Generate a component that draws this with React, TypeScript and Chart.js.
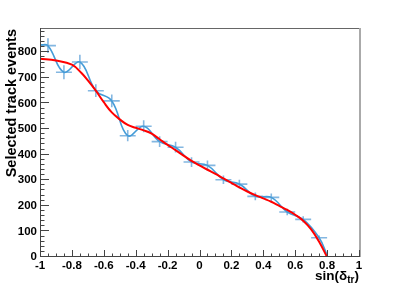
import { useEffect, useRef } from 'react';
import { Chart, registerables } from 'chart.js';

Chart.register(...registerables);

// ---- data ----
const binCenters = [-0.95, -0.85, -0.75, -0.65, -0.55, -0.45, -0.35, -0.25, -0.15, -0.05, 0.05, 0.15, 0.25, 0.35, 0.45, 0.55, 0.65, 0.75];
const counts = [826, 722, 762, 650, 610, 474, 511, 451, 429, 371, 358, 302, 285, 237, 233, 176, 147, 75];
const countErrors = [29, 27, 28, 25, 25, 22, 23, 21, 21, 19, 19, 17, 17, 15, 15, 13, 12, 9];
const binHalfWidth = 0.05;

// smooth curve end points (beyond first/last bin centres)
const smoothEdgeX = [-1, 0.8];
const smoothEdgeY = [829, 8];

// fitted function
const fitX = [-1, -0.9, -0.8, -0.74, -0.7, -0.65, -0.6, -0.55, -0.5, -0.45, -0.4, -0.35, -0.3, -0.25, -0.2, -0.15, -0.1, -0.05, 0, 0.05, 0.1, 0.15, 0.2, 0.25, 0.3, 0.35, 0.4, 0.45, 0.5, 0.55, 0.6, 0.65, 0.7, 0.75, 0.8];
const fitY = [775, 768, 752, 719, 690, 650, 605, 565, 538, 516, 505, 495, 482, 460, 438, 418, 396, 376, 358, 341, 325, 307, 290, 272, 256, 242, 229, 216, 200, 184, 165, 142, 108, 60, 0];

const xTickValues = [-1, -0.8, -0.6, -0.4, -0.2, 0, 0.2, 0.4, 0.6, 0.8, 1];
const xTickLabels = ['-1', '-0.8', '-0.6', '-0.4', '-0.2', '0', '0.2', '0.4', '0.6', '0.8', '1'];
const yTickValues = [0, 100, 200, 300, 400, 500, 600, 700, 800];
const yTickLabels = ['0', '100', '200', '300', '400', '500', '600', '700', '800'];

const xRange = [-1, 1];
const yRange = [0, 895];
const yTitle = 'Selected track events';
const xTitleMain = 'sin(δ';
const xTitleSub = 'tr';
const xTitleEnd = ')';

const W = 399;
const H = 286;
const FONT = '"Liberation Sans", Arial, Helvetica, sans-serif';

const rootPlugin = {
  id: 'rootStyle',
  beforeDatasetsDraw(chart: any) {
    const ctx = chart.ctx;
    const xs = chart.scales.x;
    const ys = chart.scales.y;
    ctx.save();
    ctx.strokeStyle = 'rgba(110,170,220,0.85)';
    ctx.lineWidth = 1.6;
    for (let i = 0; i < binCenters.length; i++) {
      const px = xs.getPixelForValue(binCenters[i]);
      const py = ys.getPixelForValue(counts[i]);
      const x0 = xs.getPixelForValue(binCenters[i] - binHalfWidth);
      const x1 = xs.getPixelForValue(binCenters[i] + binHalfWidth);
      const y0 = ys.getPixelForValue(counts[i] - countErrors[i]);
      const y1 = ys.getPixelForValue(counts[i] + countErrors[i]);
      ctx.beginPath();
      ctx.moveTo(x0, py);
      ctx.lineTo(x1, py);
      ctx.moveTo(px, y0);
      ctx.lineTo(px, y1);
      ctx.stroke();
    }
    ctx.restore();
  },
  afterDraw(chart: any) {
    const ctx = chart.ctx;
    const xs = chart.scales.x;
    const ys = chart.scales.y;
    const a = chart.chartArea;
    ctx.save();
    // frame
    ctx.lineWidth = 1;
    ctx.strokeStyle = '#666';
    ctx.beginPath();
    ctx.moveTo(a.left, a.top + 0.5);
    ctx.lineTo(a.right, a.top + 0.5);
    ctx.stroke();
    ctx.strokeStyle = '#aaa';
    ctx.lineWidth = 2;
    ctx.beginPath();
    ctx.moveTo(a.right + 1, a.top);
    ctx.lineTo(a.right + 1, a.bottom);
    ctx.stroke();
    ctx.lineWidth = 1;
    ctx.strokeStyle = '#444';
    ctx.beginPath();
    ctx.moveTo(a.left + 0.5, a.top);
    ctx.lineTo(a.left + 0.5, a.bottom);
    ctx.moveTo(a.left, a.bottom - 0.5);
    ctx.lineTo(a.right, a.bottom - 0.5);
    ctx.stroke();

    // y ticks (inside)
    ctx.beginPath();
    for (let v = yRange[0]; v <= yRange[1] + 1e-6; v += 20) {
      const py = Math.round(ys.getPixelForValue(v)) - 0.5;
      const major = Math.abs(v % 100) < 1e-6;
      ctx.moveTo(a.left, py);
      ctx.lineTo(a.left + (major ? 9 : 4.5), py);
    }
    // x ticks (inside)
    for (let k = 0; k <= 40; k++) {
      const v = xRange[0] + k * 0.05;
      const px = Math.round(xs.getPixelForValue(v)) + 0.5;
      const major = k % 4 === 0;
      ctx.moveTo(px, a.bottom);
      ctx.lineTo(px, a.bottom - (major ? 7 : 3.5));
    }
    ctx.stroke();

    // y title
    ctx.fillStyle = '#000';
    ctx.save();
    ctx.translate(16, a.top + 1);
    ctx.rotate(-Math.PI / 2);
    ctx.font = `bold 14.5px ${FONT}`;
    ctx.textAlign = 'right';
    ctx.textBaseline = 'alphabetic';
    ctx.fillText(yTitle, 0, 0);
    ctx.restore();

    // x title with subscript, right aligned to axis end
    const mainFont = `bold 13.5px ${FONT}`;
    const subFont = `bold 10px ${FONT}`;
    ctx.font = mainFont;
    const w1 = ctx.measureText(xTitleMain).width;
    const w3 = ctx.measureText(xTitleEnd).width;
    ctx.font = subFont;
    const w2 = ctx.measureText(xTitleSub).width;
    const total = w1 + w2 + w3;
    let x = a.right - total;
    const base = 279.5;
    ctx.textAlign = 'left';
    ctx.textBaseline = 'alphabetic';
    ctx.font = mainFont;
    ctx.fillText(xTitleMain, x, base);
    x += w1;
    ctx.font = subFont;
    ctx.fillText(xTitleSub, x, base + 3);
    x += w2;
    ctx.font = mainFont;
    ctx.fillText(xTitleEnd, x, base);
    ctx.restore();
  },
};

export default function App() {
  const ref = useRef<HTMLCanvasElement | null>(null);

  useEffect(() => {
    document.body.style.margin = '0';
    const canvas = ref.current;
    if (!canvas) return;

    const smoothData = [
      { x: smoothEdgeX[0], y: smoothEdgeY[0] },
      ...binCenters.map((x, i) => ({ x, y: counts[i] })),
      { x: smoothEdgeX[1], y: smoothEdgeY[1] },
    ];
    const fitData = fitX.map((x, i) => ({ x, y: fitY[i] }));

    const chart = new Chart(canvas, {
      type: 'line',
      data: {
        datasets: [
          {
            label: 'fit',
            data: fitData,
            borderColor: '#ff0000',
            borderWidth: 2,
            pointRadius: 0,
            tension: 0.4,
            fill: false,
            order: 0,
          },
          {
            label: 'smooth',
            data: smoothData,
            borderColor: '#449cd8',
            borderWidth: 1.6,
            pointRadius: 0,
            tension: 0.4,
            fill: false,
            order: 1,
          },
        ],
      },
      options: {
        animation: false,
        responsive: false,
        maintainAspectRatio: false,
        devicePixelRatio: 1,
        layout: { padding: { top: 28, right: 40, left: 0, bottom: 0 } },
        plugins: { legend: { display: false }, tooltip: { enabled: false }, title: { display: false } },
        scales: {
          x: {
            type: 'linear',
            min: xRange[0],
            max: xRange[1],
            grid: { display: false, drawTicks: false },
            border: { display: false },
            afterBuildTicks: (s: any) => {
              s.ticks = xTickValues.map((v) => ({ value: v }));
            },
            afterFit: (s: any) => {
              s.height = 29;
            },
            ticks: {
              autoSkip: false,
              maxRotation: 0,
              minRotation: 0,
              padding: 2,
              color: '#000',
              font: { family: FONT, size: 11.5, weight: 'bold' },
              callback: (_v: any, i: number) => xTickLabels[i],
            },
          },
          y: {
            type: 'linear',
            min: yRange[0],
            max: yRange[1],
            grid: { display: false, drawTicks: false },
            border: { display: false },
            afterBuildTicks: (s: any) => {
              s.ticks = yTickValues.map((v) => ({ value: v }));
            },
            afterFit: (s: any) => {
              s.width = 40;
            },
            ticks: {
              autoSkip: false,
              padding: 3,
              color: '#000',
              font: { family: FONT, size: 11.5, weight: 'bold' },
              callback: (_v: any, i: number) => yTickLabels[i],
            },
          },
        },
      },
      plugins: [rootPlugin],
    });

    return () => chart.destroy();
  }, []);

  return (
    <div style={{ position: 'fixed', left: 0, top: 0, width: W, height: H, background: '#fff' }}>
      <canvas ref={ref} width={W} height={H} style={{ width: W, height: H, display: 'block' }} />
    </div>
  );
}
